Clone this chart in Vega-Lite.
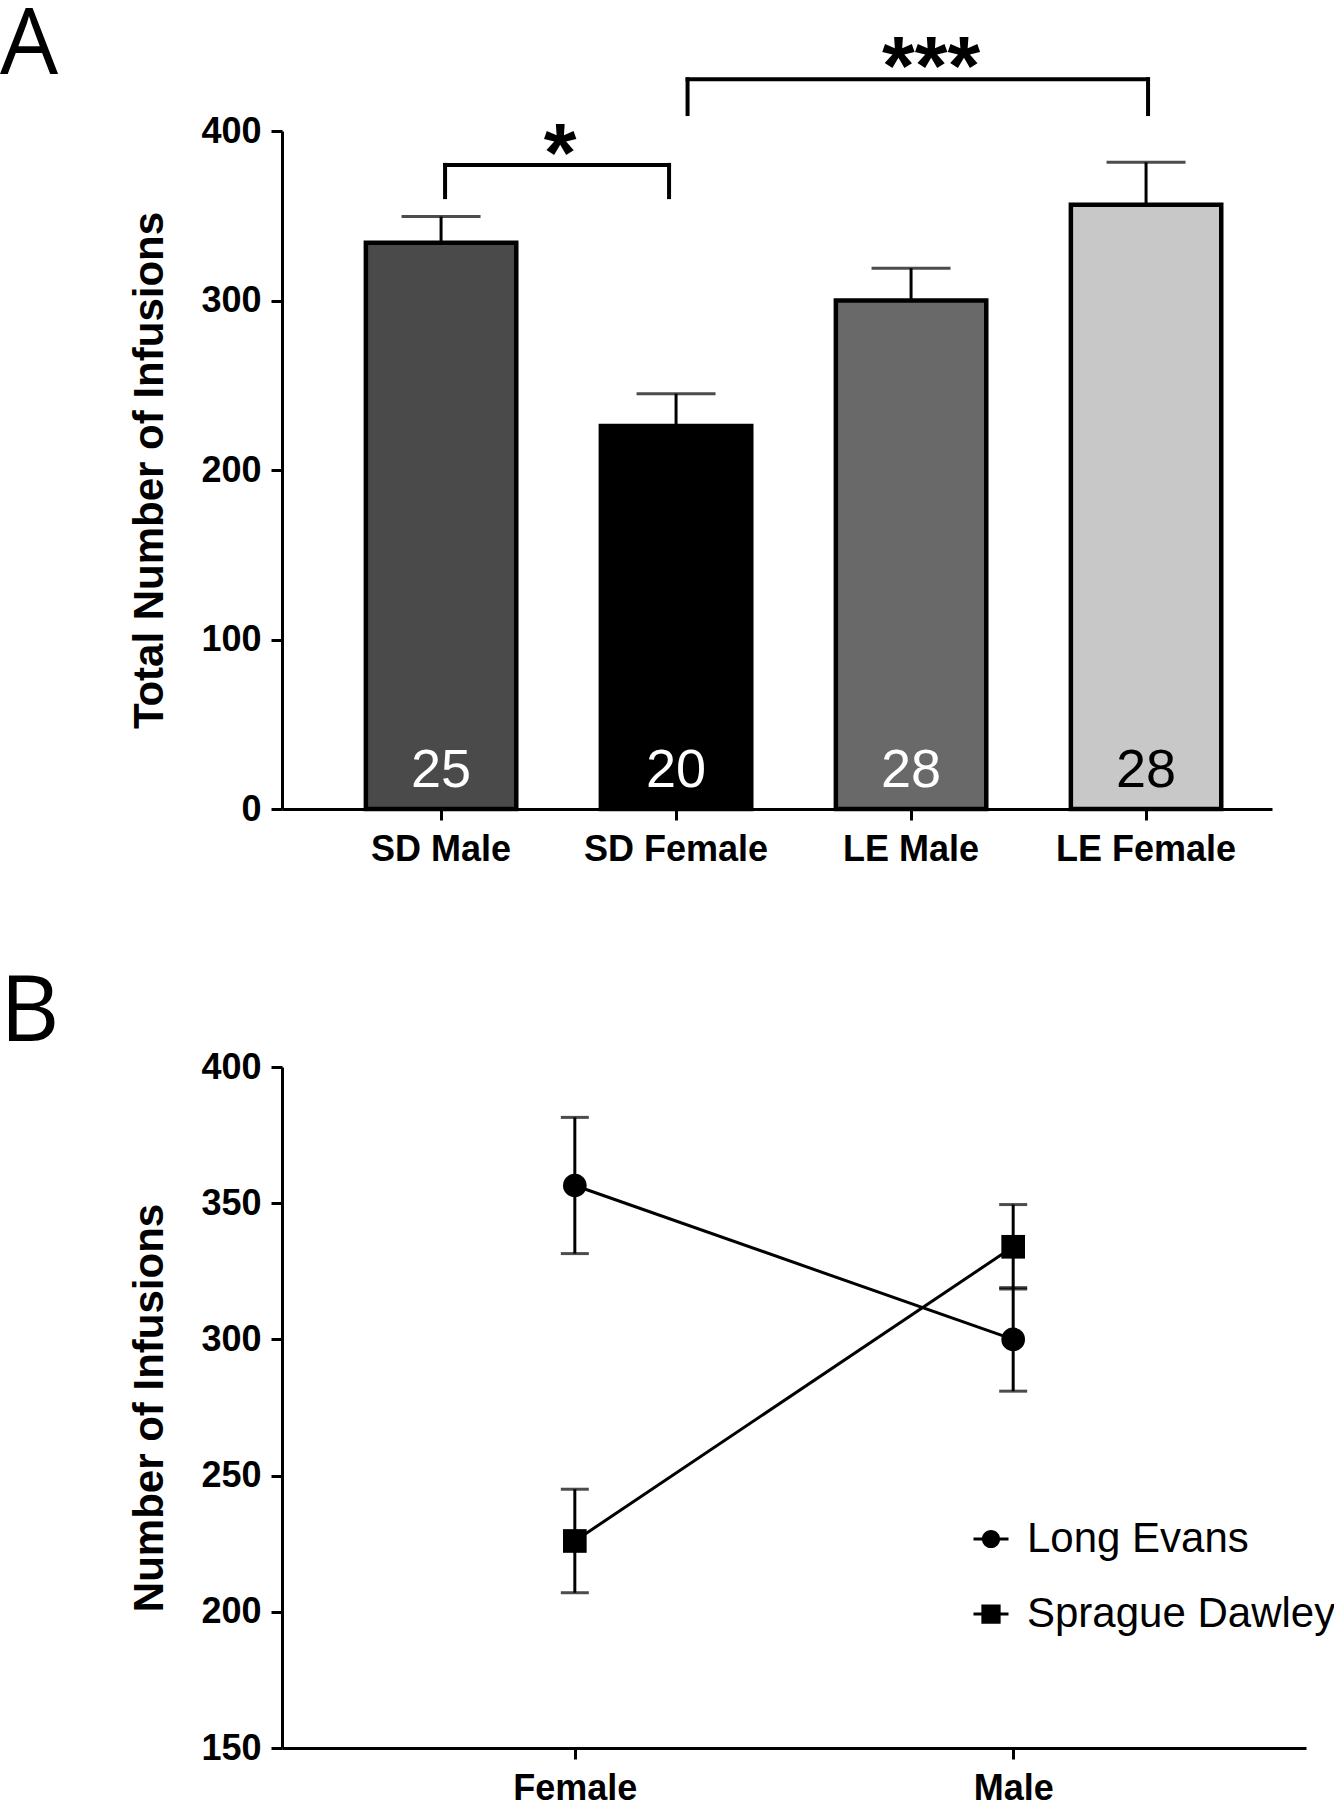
{
  "$schema": "https://vega.github.io/schema/vega-lite/v6.json",
  "background": "white",
  "padding": 0,
  "spacing": 100,
  "datasets": {
    "groups": [
      {"group": "SD Male", "strain": "Sprague Dawley", "sex": "Male", "mean": 334, "upper": 349.5, "lower": 318.5, "n": "25"},
      {"group": "SD Female", "strain": "Sprague Dawley", "sex": "Female", "mean": 226, "upper": 245, "lower": 207, "n": "20"},
      {"group": "LE Male", "strain": "Long Evans", "sex": "Male", "mean": 300, "upper": 319, "lower": 281, "n": "28"},
      {"group": "LE Female", "strain": "Long Evans", "sex": "Female", "mean": 356.5, "upper": 381.5, "lower": 331.5, "n": "28"}
    ],
    "brackets": [
      {"bracket": "b1", "from": "SD Male", "to": "SD Female", "top": 380, "bottom": 361, "stars": "*"},
      {"bracket": "b2", "from": "SD Female", "to": "LE Female", "top": 430.5, "bottom": 410, "stars": "***"}
    ]
  },
  "config": {
    "view": {"stroke": null},
    "axis": {
      "domainColor": "black", "domainWidth": 3, "tickColor": "black", "tickWidth": 3, "tickSize": 11,
      "labelFont": "Liberation Sans", "labelFontWeight": "bold", "labelFontSize": 36, "labelColor": "black", "labelPadding": 10, "labelLimit": 0,
      "titleFont": "Liberation Sans", "titleFontWeight": "bold", "titleFontSize": 42, "titleColor": "black", "titlePadding": 29,
      "grid": false
    },
    "axisX": {"labelPadding": 12}
  },
  "vconcat": [
    {
      "width": 990,
      "height": 678,
      "title": {"text": "A", "anchor": "start", "frame": "group", "dx": -282, "offset": -138, "baseline": "alphabetic", "font": "Open Sans", "fontSize": 92, "fontWeight": "normal", "color": "black"},
      "layer": [
        {
          "data": {"name": "groups"},
          "mark": {"type": "rule", "strokeWidth": 3, "color": "black"},
          "encoding": {
            "x": {"field": "group", "type": "nominal", "sort": ["SD Male", "SD Female", "LE Male", "LE Female"],
                  "scale": {"domain": ["SD Male", "SD Female", "LE Male", "LE Female"], "paddingInner": 0.36, "paddingOuter": 0.2864, "align": 0.623},
                  "axis": {"title": null, "labelAngle": 0}},
            "y": {"field": "mean", "type": "quantitative", "scale": {"domain": [0, 400], "nice": false},
                  "axis": {"values": [0, 100, 200, 300, 400], "title": "Total Number of Infusions"}},
            "y2": {"field": "upper"}
          }
        },
        {
          "data": {"name": "groups"},
          "mark": {"type": "tick", "size": 79, "thickness": 3, "color": "black"},
          "encoding": {
            "x": {"field": "group", "type": "nominal"},
            "y": {"field": "upper", "type": "quantitative"}
          }
        },
        {
          "data": {"name": "groups"},
          "mark": {"type": "bar", "stroke": "black", "strokeWidth": 4.5},
          "encoding": {
            "x": {"field": "group", "type": "nominal"},
            "y": {"field": "mean", "type": "quantitative"},
            "color": {"field": "group", "type": "nominal", "legend": null,
                      "scale": {"domain": ["SD Male", "SD Female", "LE Male", "LE Female"], "range": ["#4a4a4a", "#000000", "#696969", "#c8c8c8"]}}
          }
        },
        {
          "data": {"name": "groups"},
          "mark": {"type": "text", "font": "Liberation Sans", "fontSize": 54, "baseline": "alphabetic", "align": "center"},
          "encoding": {
            "x": {"field": "group", "type": "nominal"},
            "y": {"datum": 13, "type": "quantitative"},
            "text": {"field": "n"},
            "color": {"condition": {"test": "datum.group === 'LE Female'", "value": "black"}, "value": "white"}
          }
        },
        {
          "data": {"name": "brackets"},
          "transform": [{"filter": "datum.bracket === 'b1'"}],
          "mark": {"type": "rule", "strokeWidth": 4, "color": "black", "strokeCap": "square", "xOffset": 4, "x2Offset": -7},
          "encoding": {
            "x": {"field": "from", "type": "nominal", "bandPosition": 0.5},
            "x2": {"field": "to", "bandPosition": 0.5},
            "y": {"field": "top", "type": "quantitative"}
          }
        },
        {
          "data": {"name": "brackets"},
          "transform": [{"filter": "datum.bracket === 'b1'"}],
          "mark": {"type": "rule", "strokeWidth": 4, "color": "black", "strokeCap": "square", "xOffset": 4},
          "encoding": {
            "x": {"field": "from", "type": "nominal"},
            "y": {"field": "bottom", "type": "quantitative"},
            "y2": {"field": "top"}
          }
        },
        {
          "data": {"name": "brackets"},
          "transform": [{"filter": "datum.bracket === 'b1'"}],
          "mark": {"type": "rule", "strokeWidth": 4, "color": "black", "strokeCap": "square", "xOffset": -7},
          "encoding": {
            "x": {"field": "to", "type": "nominal"},
            "y": {"field": "bottom", "type": "quantitative"},
            "y2": {"field": "top"}
          }
        },
        {
          "data": {"name": "brackets"},
          "transform": [{"filter": "datum.bracket === 'b2'"}],
          "mark": {"type": "rule", "strokeWidth": 4, "color": "black", "strokeCap": "square", "xOffset": 11.5, "x2Offset": 2},
          "encoding": {
            "x": {"field": "from", "type": "nominal", "bandPosition": 0.5},
            "x2": {"field": "to", "bandPosition": 0.5},
            "y": {"field": "top", "type": "quantitative"}
          }
        },
        {
          "data": {"name": "brackets"},
          "transform": [{"filter": "datum.bracket === 'b2'"}],
          "mark": {"type": "rule", "strokeWidth": 4, "color": "black", "strokeCap": "square", "xOffset": 11.5},
          "encoding": {
            "x": {"field": "from", "type": "nominal"},
            "y": {"field": "bottom", "type": "quantitative"},
            "y2": {"field": "top"}
          }
        },
        {
          "data": {"name": "brackets"},
          "transform": [{"filter": "datum.bracket === 'b2'"}],
          "mark": {"type": "rule", "strokeWidth": 4, "color": "black", "strokeCap": "square", "xOffset": 2},
          "encoding": {
            "x": {"field": "to", "type": "nominal"},
            "y": {"field": "bottom", "type": "quantitative"},
            "y2": {"field": "top"}
          }
        },
        {
          "data": {"name": "brackets"},
          "transform": [{"filter": "datum.bracket === 'b1'"}],
          "mark": {"type": "text", "font": "Liberation Sans", "fontWeight": "bold", "fontSize": 84, "baseline": "alphabetic", "align": "center", "color": "black", "xOffset": 119, "dy": 17},
          "encoding": {
            "x": {"field": "from", "type": "nominal"},
            "y": {"field": "top", "type": "quantitative"},
            "text": {"field": "stars"}
          }
        },
        {
          "data": {"name": "brackets"},
          "transform": [{"filter": "datum.bracket === 'b2'"}],
          "mark": {"type": "text", "font": "Liberation Sans", "fontWeight": "bold", "fontSize": 84, "baseline": "alphabetic", "align": "center", "color": "black", "xOffset": 255, "dy": 16},
          "encoding": {
            "x": {"field": "from", "type": "nominal"},
            "y": {"field": "top", "type": "quantitative"},
            "text": {"field": "stars"}
          }
        }
      ]
    },
    {
      "width": 1024,
      "height": 681,
      "title": {"text": "B", "anchor": "start", "frame": "group", "dx": -282, "offset": -84, "baseline": "alphabetic", "font": "Open Sans", "fontSize": 92, "fontWeight": "normal", "color": "black"},
      "data": {"name": "groups"},
      "layer": [
        {
          "mark": {"type": "rule", "strokeWidth": 3, "color": "black"},
          "encoding": {
            "x": {"field": "sex", "type": "nominal", "scale": {"type": "point", "domain": ["Female", "Male"], "padding": 0.668},
                  "axis": {"title": null, "labelAngle": 0}},
            "y": {"field": "lower", "type": "quantitative", "scale": {"domain": [150, 400], "nice": false},
                  "axis": {"values": [150, 200, 250, 300, 350, 400], "title": "Number of Infusions"}},
            "y2": {"field": "upper"}
          }
        },
        {
          "mark": {"type": "tick", "size": 28, "thickness": 3, "color": "black"},
          "encoding": {
            "x": {"field": "sex", "type": "nominal"},
            "y": {"field": "lower", "type": "quantitative"}
          }
        },
        {
          "mark": {"type": "tick", "size": 28, "thickness": 3, "color": "black"},
          "encoding": {
            "x": {"field": "sex", "type": "nominal"},
            "y": {"field": "upper", "type": "quantitative"}
          }
        },
        {
          "mark": {"type": "line", "strokeWidth": 3, "color": "black"},
          "encoding": {
            "x": {"field": "sex", "type": "nominal"},
            "y": {"field": "mean", "type": "quantitative"},
            "detail": {"field": "strain", "type": "nominal"}
          }
        },
        {
          "mark": {"type": "point", "filled": true, "size": 560, "color": "black", "opacity": 1},
          "encoding": {
            "x": {"field": "sex", "type": "nominal"},
            "y": {"field": "mean", "type": "quantitative"},
            "shape": {"field": "strain", "type": "nominal", "legend": null,
                      "scale": {"domain": ["Long Evans", "Sprague Dawley"], "range": ["circle", "square"]}}
          }
        },
        {
          "mark": {"type": "point", "filled": true, "size": 100, "color": "black", "opacity": 0},
          "encoding": {
            "x": {"field": "sex", "type": "nominal"},
            "y": {"field": "mean", "type": "quantitative"},
            "shape": {"field": "strain", "type": "nominal",
                      "scale": {"domain": ["Long Evans", "Sprague Dawley"],
                                "range": ["M-1,-0.09H-0.45V0.09H-1ZM0.45,-0.09H1V0.09H0.45ZM0.52,0A0.52,0.52,0,1,1,-0.52,0A0.52,0.52,0,1,1,0.52,0Z", "M-1,-0.09H-0.5V0.09H-1ZM0.5,-0.09H1V0.09H0.5ZM-0.55,-0.55H0.55V0.55H-0.55Z"]},
                      "legend": {"title": null, "orient": "none", "legendX": 688, "legendY": 451, "padding": 0,
                                 "symbolSize": 1225, "symbolOpacity": 1, "symbolFillColor": "black", "symbolStrokeWidth": 0,
                                 "labelFont": "Liberation Sans", "labelFontSize": 42, "labelColor": "black", "labelOffset": 15, "labelLimit": 0, "rowPadding": 33}}
          }
        }
      ],
      "resolve": {"scale": {"shape": "independent"}}
    }
  ]
}
